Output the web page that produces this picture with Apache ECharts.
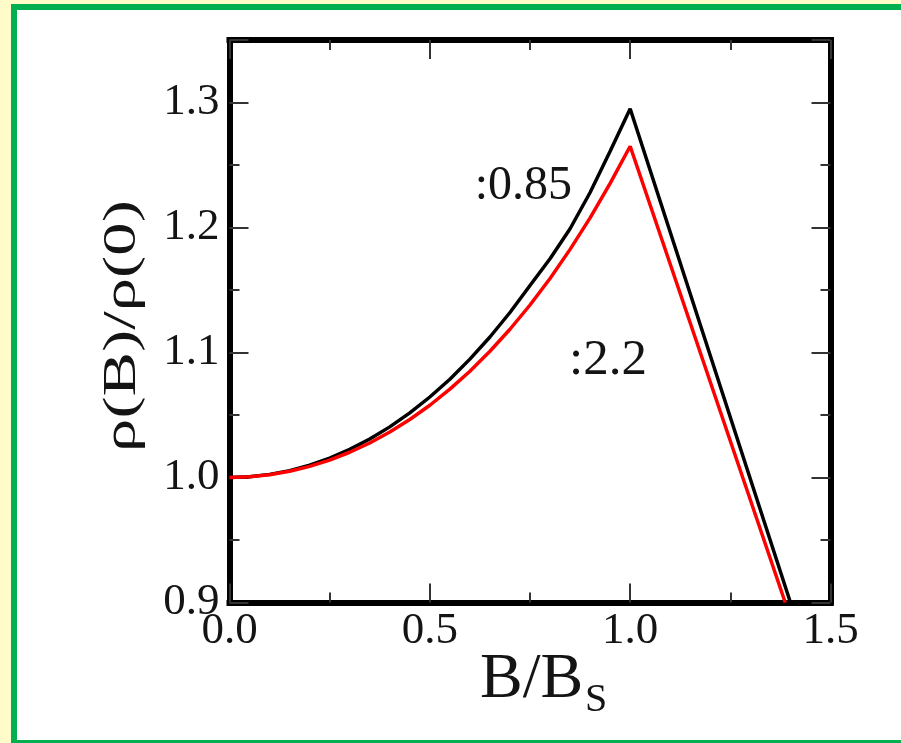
<!DOCTYPE html>
<html>
<head>
<meta charset="utf-8">
<script src="https://cdn.jsdelivr.net/npm/echarts@6/dist/echarts.min.js"></script>
<style>
  html, body { margin: 0; padding: 0; width: 901px; height: 743px; overflow: hidden; background: #fffcc9; }
  #frame { position: absolute; left: 11px; top: 4px; width: 2000px; height: 742px; box-sizing: border-box;
           border: 6px solid #00b050; background: #ffffff; }
  #chart { position: absolute; left: 0; top: 0; width: 901px; height: 743px; }
</style>
</head>
<body>
<div id="frame"></div>
<div id="chart"></div>
<script>
// Field values B/Bs and normalised resistivity rho(B)/rho(0)
const bBlack = [0, 0.05, 0.10, 0.15, 0.20, 0.25, 0.30, 0.35, 0.40, 0.45, 0.50,
                0.55, 0.60, 0.65, 0.70, 0.75, 0.80, 0.85, 0.90, 0.95, 1.00, 1.40];
const rhoBlack = [1.000, 1.0006, 1.0025, 1.0055, 1.0099, 1.0155, 1.0225, 1.0308, 1.0405, 1.0517, 1.0644,
                  1.0786, 1.0947, 1.1124, 1.1320, 1.1536, 1.1750, 1.1990, 1.2280, 1.2610, 1.2950, 0.900];

const bRed = [0, 0.05, 0.10, 0.15, 0.20, 0.25, 0.30, 0.35, 0.40, 0.45, 0.50,
              0.55, 0.60, 0.65, 0.70, 0.75, 0.80, 0.85, 0.90, 0.95, 1.00, 1.387];
const rhoRed = [1.000, 1.0006, 1.0022, 1.0050, 1.0089, 1.0139, 1.0202, 1.0276, 1.0364, 1.0464, 1.0578,
                1.0707, 1.0850, 1.1010, 1.1186, 1.1380, 1.1592, 1.1825, 1.2077, 1.2353, 1.2650, 0.900];

const xTicks = [0.0, 0.5, 1.0, 1.5];
const yTicks = [0.9, 1.0, 1.1, 1.2, 1.3];

const curveLabels = [':0.85', ':2.2'];

const serif = '"Liberation Serif", "DejaVu Serif", serif';
const ink = '#141414';

function zip(xs, ys) { return xs.map((x, i) => [x, ys[i]]); }
function tickText(list) {
  return v => (list.some(t => Math.abs(t - v) < 1e-6) ? v.toFixed(1) : '');
}

function frameLine() { return { show: true, onZero: false, lineStyle: { color: '#000', width: 6, cap: 'square' } }; }
function majorTick() { return { show: true, inside: true, length: 19, lineStyle: { color: '#333', width: 2 } }; }
function minorTick() { return { show: true, splitNumber: 2, length: 10, lineStyle: { color: '#333', width: 2 } }; }

function xAx(pos, labels) {
  return {
    type: 'value', position: pos, min: 0, max: 1.5, interval: 0.5,
    axisLine: frameLine(), axisTick: majorTick(), minorTick: minorTick(),
    splitLine: { show: false }, minorSplitLine: { show: false },
    axisLabel: labels ? { show: true, fontFamily: serif, fontSize: 45, color: ink, margin: 6,
                          formatter: tickText(xTicks) } : { show: false }
  };
}
function yAx(pos, labels) {
  return {
    type: 'value', position: pos, min: 0.9, max: 1.35, interval: 0.1,
    axisLine: frameLine(), axisTick: majorTick(), minorTick: minorTick(),
    splitLine: { show: false }, minorSplitLine: { show: false },
    axisLabel: labels ? { show: true, fontFamily: serif, fontSize: 45, color: ink, margin: 10,
                          formatter: tickText(yTicks) } : { show: false }
  };
}

const chart = echarts.init(document.getElementById('chart'), null, { renderer: 'canvas' });
chart.setOption({
  backgroundColor: 'transparent',
  animation: false,
  grid: { left: 229.5, right: 70.5, top: 40, bottom: 140.5, containLabel: false },
  xAxis: [xAx('bottom', true), xAx('top', false)],
  yAxis: [yAx('left', true), yAx('right', false)],
  series: [
    { type: 'line', xAxisIndex: 0, yAxisIndex: 0, data: zip(bBlack, rhoBlack), showSymbol: false,
      clip: true, lineStyle: { color: '#000000', width: 3.5 }, z: 3 },
    { type: 'line', xAxisIndex: 0, yAxisIndex: 0, data: zip(bRed, rhoRed), showSymbol: false,
      clip: true, lineStyle: { color: '#ff0000', width: 3.5 }, z: 4 }
  ],
  graphic: [
    { type: 'text', x: 572, y: 186, z: 10,
      style: { text: curveLabels[0], font: '48px ' + serif, fill: ink, align: 'right', verticalAlign: 'middle' } },
    { type: 'text', x: 647, y: 361, z: 10,
      style: { text: curveLabels[1], font: '51px ' + serif, fill: ink, align: 'right', verticalAlign: 'middle' } },
    { type: 'text', x: 123, y: 326, rotation: Math.PI / 2, scaleX: 1.45, z: 10,
      style: { text: 'ρ(B)/ρ(0)', font: '46px ' + serif, fill: ink, align: 'center', verticalAlign: 'middle' } },
    { type: 'text', x: 480, y: 680, z: 10,
      style: { text: 'B/B', font: '64px ' + serif, fill: ink, align: 'left', verticalAlign: 'middle' } },
    { type: 'text', x: 585, y: 700, z: 10,
      style: { text: 'S', font: '40px ' + serif, fill: ink, align: 'left', verticalAlign: 'middle' } }
  ]
});
</script>
</body>
</html>
